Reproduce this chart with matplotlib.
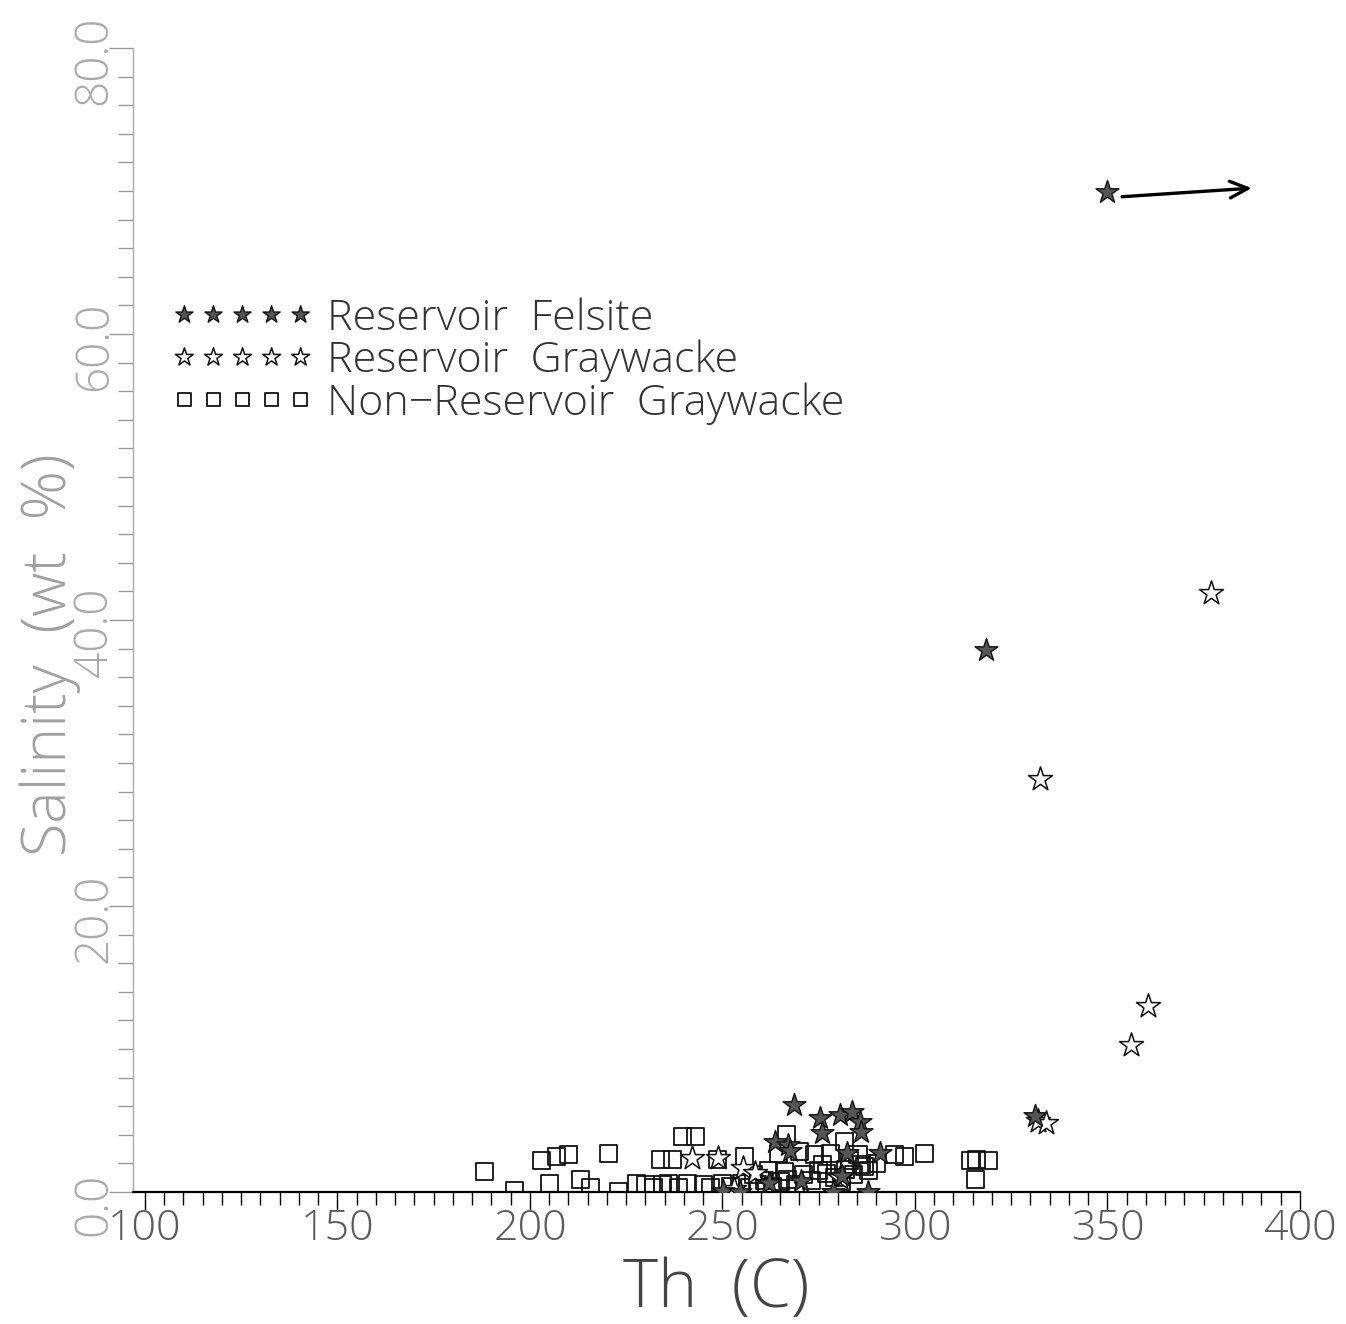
import matplotlib
matplotlib.use("Agg")
import matplotlib.pyplot as plt
from matplotlib.ticker import MultipleLocator, FixedLocator
import matplotlib.transforms as mtransforms

# ---------------- data ----------------
felsite_x = [349.9, 318.4, 268.5, 275.3, 275.8, 280.5, 283.6, 285.7, 285.9,
             263.6, 267.0, 267.5, 282.3, 290.9, 278.7, 287.8, 250.1, 254.5,
             331.2, 262.0, 270.5, 281.0]
felsite_y = [69.9, 37.9, 6.1, 5.2, 4.1, 5.4, 5.6, 4.9, 4.2,
             3.5, 3.3, 2.9, 2.7, 2.7, 0.0, 0.0, 0.1, 0.0,
             5.3, 0.6, 0.8, 1.1]

graywacke_x = [376.9, 332.5, 360.5, 356.1, 332.0, 334.0, 242.0, 248.8,
               255.3, 258.4, 253.0, 280.5]
graywacke_y = [41.9, 28.9, 13.0, 10.3, 5.0, 4.8, 2.4, 2.4,
               1.7, 1.3, 0.2, 1.0]

nonres_x = [188.1, 196.1, 202.9, 205.2, 207.0, 210.1, 213.0, 215.6, 220.3,
            223.1, 227.8, 229.9, 232.0, 233.8, 234.5, 236.0, 237.1, 238.5,
            239.7, 241.0, 243.1, 245.0, 247.0, 248.6, 250.0, 252.0, 255.0,
            255.8, 257.0, 258.0, 259.0, 261.0, 262.0, 263.0, 264.5, 265.0,
            266.0, 266.6, 267.0, 269.0, 270.0, 271.0, 273.0, 274.0, 275.0,
            276.0, 277.0, 278.0, 279.0, 281.0, 281.8, 282.0, 283.0, 284.0,
            285.2, 286.0, 287.0, 288.0, 290.1, 294.8, 297.4, 302.6, 314.3,
            316.1, 319.0, 315.6]
nonres_y = [1.4, 0.1, 2.2, 0.6, 2.5, 2.6, 0.9, 0.3, 2.7,
            0.0, 0.6, 0.5, 0.3, 2.3, 0.5, 0.6, 2.3, 0.3,
            3.9, 0.6, 3.9, 0.5, 0.3, 2.3, 0.6, 0.4, 0.6,
            2.5, 0.3, 1.2, 0.5, 0.8, 1.5, 0.4, 2.7, 0.7,
            1.4, 4.0, 0.9, 0.5, 2.8, 1.2, 0.8, 2.6, 1.5,
            1.9, 1.3, 2.7, 1.0, 0.7, 3.5, 1.6, 2.2, 1.2,
            2.6, 1.9, 1.8, 1.5, 2.0, 2.6, 2.5, 2.7, 2.2,
            2.3, 2.2, 0.9]

legend_labels = ["Reservoir  Felsite", "Reservoir  Graywacke",
                 "Non\u2212Reservoir  Graywacke"]
x_ticks = [100, 150, 200, 250, 300, 350, 400]
y_ticks = [0, 20, 40, 60, 80]
y_ticklabels = ["0.0", "20.0", "40.0", "60.0", "80.0"]
x_label = "Th  (C)"
y_label = "Salinity  (wt  %)"

# ---------------- figure ----------------
FONT = ["Open Sans", "DejaVu Sans"]
plt.rcParams["font.family"] = FONT

fig = plt.figure(figsize=(13.46, 13.24), dpi=100)
ax = fig.add_axes([133 / 1346, 1 - 1192 / 1324, (1300 - 133) / 1346, (1192 - 48) / 1324])

ax.scatter(nonres_x, nonres_y, marker="s", s=150, facecolors="none",
           edgecolors="#111111", linewidths=1.3, label=legend_labels[2], zorder=2)
ax.scatter(graywacke_x, graywacke_y, marker="*", s=330, facecolors="white",
           edgecolors="#111111", linewidths=1.1, label=legend_labels[1], zorder=3)
ax.scatter(felsite_x, felsite_y, marker="*", s=300, facecolors="#555555",
           edgecolors="#111111", linewidths=1.0, label=legend_labels[0], zorder=4)

# arrow from the off-scale felsite point
ax.annotate("", xy=(387.5, 70.2), xytext=(353.8, 69.6),
            arrowprops=dict(arrowstyle="->,head_length=1.3,head_width=0.6",
                            color="black", lw=2.4, shrinkA=0, shrinkB=0))

ax.set_xlim(96.9, 400)
ax.set_ylim(0, 80)

for side in ("top", "right"):
    ax.spines[side].set_visible(False)
ax.spines["left"].set_color("#aaaaaa")
ax.spines["left"].set_linewidth(1.0)
ax.spines["bottom"].set_color("black")
ax.spines["bottom"].set_linewidth(1.6)

ax.xaxis.set_major_locator(FixedLocator(x_ticks))
ax.xaxis.set_minor_locator(MultipleLocator(5))
ax.yaxis.set_major_locator(FixedLocator(y_ticks))
ax.yaxis.set_minor_locator(MultipleLocator(2))
ax.set_yticklabels(y_ticklabels)

ax.tick_params(axis="x", which="major", direction="out", length=13, width=1.0,
               color="black", labelsize=31, labelcolor="#5a5a5a", pad=-2)
ax.tick_params(axis="x", which="minor", direction="out", length=9, width=1.0,
               color="black")
ax.tick_params(axis="y", which="major", direction="out", length=17, width=1.0,
               color="#999999", labelsize=33, labelcolor="#aaaaaa", pad=-6)
ax.tick_params(axis="y", which="minor", direction="out", length=11, width=1.0,
               color="#999999")
for lab in ax.get_yticklabels():
    lab.set_rotation(90)
    lab.set_va("center")
    lab.set_ha("right")
    lab.set_fontweight("light")
    lab.set_transform(lab.get_transform() +
                      mtransforms.ScaledTranslation(0, -12 / 100, fig.dpi_scale_trans))
for lab in ax.get_xticklabels():
    lab.set_fontweight("light")

ax.set_xlabel(x_label, fontsize=48, color="#444444", fontweight="light")
ax.xaxis.set_label_coords(0.5, -0.056)
ax.xaxis.label.set_va("top")
ax.set_ylabel(y_label, fontsize=44, color="#a0a0a0", fontweight="light")
ax.yaxis.set_label_coords(-0.071, 0.47)
ax.yaxis.label.set_va("center")

leg = ax.legend(handles=ax.collections[::-1], labels=legend_labels,
                loc="upper left", bbox_to_anchor=(0.033, 0.782), frameon=False,
                scatterpoints=5, scatteryoffsets=[0.5], markerscale=0.75,
                handlelength=3.3, handletextpad=0.3, labelspacing=0.0,
                borderpad=0, borderaxespad=0,
                prop={"size": 31, "weight": "light"})
for t in leg.get_texts():
    t.set_color("#333333")

fig.savefig("out.png", dpi=100, facecolor="white")
